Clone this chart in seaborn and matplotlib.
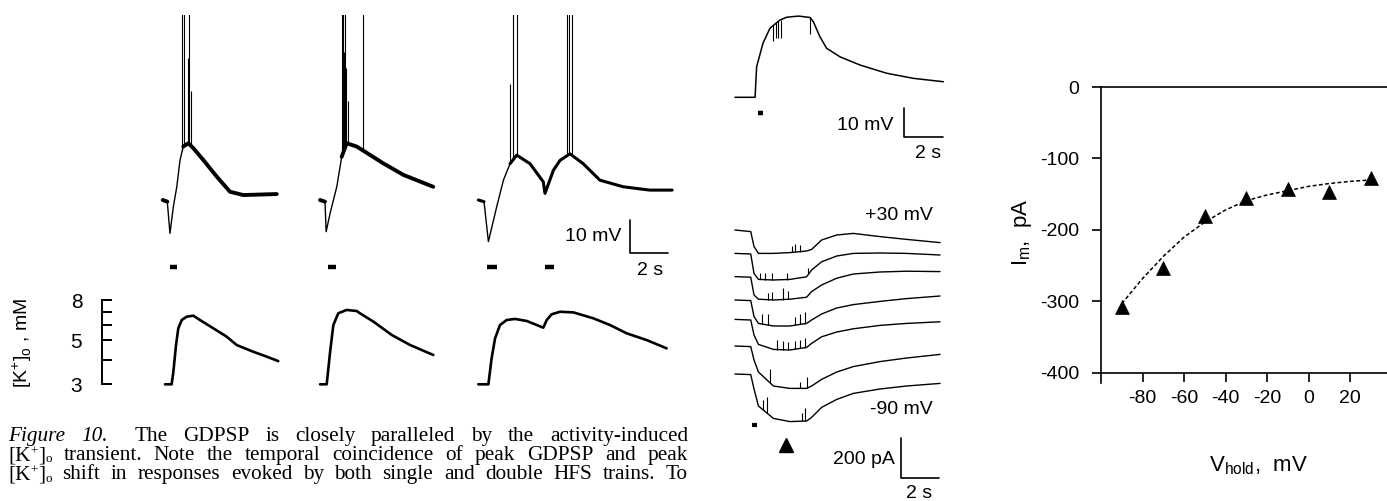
import numpy as np
import matplotlib
matplotlib.use("Agg")
import matplotlib.pyplot as plt
import seaborn as sns
from matplotlib.ticker import NullLocator, FixedLocator, FixedFormatter

# ------------------------------------------------------------------ data
# Membrane potential (GDPSP) traces, time in s from trace start, mV re baseline
VM1_T = [0, 0.24, 0.38, 0.56, 0.74, 0.91, 1.08, 1.35, 1.61, 2.14, 2.84, 3.54, 4.24, 6.0]
VM1_V = [0, -0.5, -10.1, -2.0, 4.0, 12.1, 16.2, 17.2, 15.7, 12.1, 7.1, 2.5, 1.5, 1.8]
VM1_SPIKE_T = [1.03, 1.14, 1.32, 1.40, 1.47]
VM1_SPIKE_TOP = [65, 65, 43, 65, 33]

VM2_T = [0, 0.26, 0.32, 0.53, 0.88, 1.14, 1.40, 1.93, 3.33, 4.39, 5.96]
VM2_V = [0, -0.5, -9.6, -4.0, 4.0, 13.1, 17.2, 16.2, 11.1, 7.6, 4.0]
VM2_SPIKE_T = [1.14, 1.19, 1.26, 1.32, 1.37, 1.49, 2.28]
VM2_SPIKE_TOP = [65, 65, 45, 65, 40, 30, 65]

VM3_T = [0, 0.30, 0.53, 0.97, 1.32, 1.67, 2.02, 2.72, 3.42, 3.51, 3.95, 4.30, 4.82, 5.52, 6.40, 7.63, 9.02, 10.2]
VM3_V = [0, -0.5, -12.6, -2.0, 6.0, 11.0, 13.6, 11.0, 5.5, 2.0, 9.0, 12.0, 14.0, 11.0, 6.0, 4.0, 3.0, 3.0]
VM3_SPIKE_T = [1.67, 1.84, 2.02, 4.65, 4.79, 4.91]
VM3_SPIKE_TOP = [35, 65, 65, 65, 65, 65]

# HFS train markers (start, end) in s from trace start
HFS1 = [(0.37, 0.74)]
HFS2 = [(0.40, 0.84)]
HFS3 = [(0.47, 1.00), (3.50, 4.00)]

# Extracellular K+ traces, s from trace start, mM
K1_T = [0, 0.35, 0.44, 0.58, 0.70, 0.88, 1.14, 1.49, 1.84, 2.54, 3.25, 3.77, 4.65, 5.35, 5.96]
K1_C = [3.0, 3.0, 3.47, 4.74, 5.76, 6.34, 6.59, 6.67, 6.34, 5.76, 5.22, 4.74, 4.38, 4.14, 3.93]
K2_T = [0, 0.35, 0.53, 0.70, 0.96, 1.40, 1.93, 2.10, 2.81, 3.77, 4.74, 5.96]
K2_C = [3.0, 3.0, 4.38, 5.98, 6.86, 7.13, 7.04, 6.86, 6.22, 5.33, 4.74, 4.22]
K3_T = [0, 0.53, 0.70, 0.88, 1.14, 1.49, 1.93, 2.55, 3.42, 3.60, 3.86, 4.30, 5.00, 6.05, 6.93, 7.81, 8.86, 9.91]
K3_C = [3.0, 3.0, 4.06, 5.12, 5.98, 6.34, 6.42, 6.27, 5.80, 6.34, 6.78, 6.98, 6.93, 6.47, 5.98, 5.43, 5.02, 4.56]
K_TICKS = [3, 4, 5, 6, 7, 8]
K_TICK_LABELS = ["3", "", "5", "", "", "8"]

# Current-clamp trace (middle top), s, mV re baseline
VC_T = [0, 1.04, 1.12, 1.45, 1.81, 2.33, 2.68, 3.30, 3.89, 4.06, 4.40, 4.75, 5.44, 6.48, 7.86, 9.24, 10.8]
VC_V = [0, 0, 10.8, 19.1, 24.4, 27.3, 28.3, 28.7, 28.2, 26.7, 21.4, 17.3, 14.3, 11.4, 8.5, 6.7, 5.5]
VC_DIP_T = [1.99, 2.12, 2.24, 2.38, 3.89]
VC_DIP_BOTTOM = [20, 21, 21, 21, 22.5]
VC_HFS = [(1.19, 1.45)]

# Voltage-clamp current traces (middle bottom), s, pA re holding current
IM_T = [0, 0.82, 0.99, 1.22, 2.00, 2.86, 3.73, 3.99, 4.51, 5.30, 6.16, 7.55, 8.94, 10.68]
IM_P30 = [0, -8, -83, -117, -117, -113, -105, -97, -50, -25, -17, -33, -47, -63]
IM_P10 = [0, -3, -100, -130, -133, -130, -117, -83, -42, -13, 0, 2, 0, -8]
IM_M10 = [0, -3, -92, -113, -117, -113, -103, -75, -42, -8, 13, 23, 27, 25]
IM_M30 = [0, -3, -83, -117, -130, -130, -117, -100, -70, -40, -23, -7, 7, 20]
IM_M50 = [0, -3, -78, -125, -150, -153, -140, -120, -87, -63, -47, -30, -20, -12]
IM_M70 = [0, -3, -70, -130, -200, -212, -212, -200, -167, -130, -103, -78, -60, -42]
IM_M90 = [0, -3, -75, -160, -222, -238, -235, -217, -167, -127, -97, -75, -60, -47]
IM_SPIKES = [  # (time s, height pA) of small inward-current spikelets
    [(2.95, 33), (3.13, 42), (3.39, 33)],
    [(1.30, 33), (1.56, 33), (1.91, 33), (2.69, 33), (3.82, 33)],
    [(1.74, 33), (1.91, 42), (2.52, 58), (2.78, 42)],
    [(1.39, 50), (1.74, 58), (3.13, 42), (3.39, 50), (3.65, 58)],
    [(2.17, 50), (2.52, 42), (2.78, 42), (3.13, 42), (3.39, 42), (3.65, 50)],
    [(1.82, 67), (3.39, 33), (3.73, 58)],
    [(1.48, 50), (1.68, 83), (3.47, 42), (3.65, 67)],
]
IM_HFS = [(0.87, 1.16)]
IM_ARROW_T = 2.64

# I-V relation (right panel)
V_HOLD = [-90, -70, -50, -30, -10, 10, 30]
I_M = [-308, -253, -181, -155, -143, -147, -127]
FIT_V = [-90, -80, -70, -60, -50, -40, -30, -20, -10, 0, 10, 20, 30]
FIT_I = [-303, -268, -237, -210, -189, -172, -159, -151, -145, -139, -135, -132, -130]
X_TICKS = [-80, -60, -40, -20, 0, 20]
Y_TICKS = [0, -100, -200, -300, -400]

CAP1_IT = "Figure 10."
CAP1 = "The GDPSP is closely paralleled by the activity-induced"
CAP2 = "[K+]o transient. Note the temporal coincidence of peak GDPSP and peak"
CAP3 = "[K+]o shift in responses evoked by both single and double HFS trains. To"

# ------------------------------------------------------------------ style
sns.set_theme(style="ticks", rc={"axes.edgecolor": "black", "xtick.color": "black",
                                  "ytick.color": "black", "text.color": "black",
                                  "axes.labelcolor": "black"})
plt.rcParams["font.family"] = ["Liberation Sans", "DejaVu Sans"]

W, H = 1387, 501
fig = plt.figure(figsize=(W / 100, H / 100), dpi=100)
fig.patch.set_facecolor("white")


def px_axes(x0, y0, x1, y1):
    a = fig.add_axes([x0 / W, 1 - y1 / H, (x1 - x0) / W, (y1 - y0) / H])
    a.patch.set_alpha(0)
    return a


def line(ax, t, v, t0=0.0, v0=0.0, lw=1.0, **kw):
    sns.lineplot(x=np.asarray(t, float) + t0, y=np.asarray(v, float) + v0, ax=ax,
                 color="black", linewidth=lw, estimator=None, sort=False,
                 legend=False, **kw)


def thick_parts(ax, t, v, t0, ranges, lw):
    t = np.asarray(t, float)
    v = np.asarray(v, float)
    for a, b in ranges:
        m = (t >= a - 1e-9) & (t <= b + 1e-9)
        line(ax, t[m], v[m], t0=t0, lw=lw)


# ------------------------------------------------------------ left: Vm traces
axv = px_axes(100, 15, 700, 285)
axv.set_xlim((100 - 150) / 19, (700 - 150) / 19)
axv.set_ylim((200 - 285) / 3.3, (200 - 15) / 3.3)
axv.set_axis_off()
vm_sets = [(VM1_T, VM1_V, VM1_SPIKE_T, VM1_SPIKE_TOP, HFS1, 0.67, [(0, 0.24), (1.08, 6.0)], 2.8),
           (VM2_T, VM2_V, VM2_SPIKE_T, VM2_SPIKE_TOP, HFS2, 8.95, [(0, 0.26), (1.14, 5.96)], 2.8),
           (VM3_T, VM3_V, VM3_SPIKE_T, VM3_SPIKE_TOP, HFS3, 17.28, [(0, 0.30), (1.67, 10.2)], 2.2)]
for t, v, st, stop, hfs, t0, thick, tlw in vm_sets:
    line(axv, t, v, t0=t0, lw=1.0)
    thick_parts(axv, t, v, t0, thick, tlw)
    base = np.interp(st, t, v)
    axv.vlines(np.asarray(st) + t0, base, stop, colors="black", lw=0.8)
    for a, b in hfs:
        axv.plot([a + t0, b + t0], [-20.3, -20.3], color="black", lw=3.2, solid_capstyle="butt")
# scale bar 10 mV / 2 s
sbx, sby = (630 - 150) / 19, (200 - 253) / 3.3
axv.plot([sbx, sbx, sbx + 2], [sby + 10, sby, sby], color="black", lw=1.2)
axv.text(sbx - 0.45, sby + 5, "10 mV", ha="right", va="center", fontsize=14)
axv.text(sbx + 1.05, sby - 5.2, "2 s", ha="center", va="center", fontsize=14)

# ------------------------------------------------------------ left: K+ traces
axk = px_axes(101.7, 290, 700, 395)
axk.set_yscale("log")
axk.set_xlim((101.7 - 150) / 19, (700 - 150) / 19)
axk.set_ylim(3 * np.exp((384.3 - 395) / 85.9), 3 * np.exp((384.3 - 290) / 85.9))
for sp in ["top", "right", "bottom"]:
    axk.spines[sp].set_visible(False)
axk.spines["left"].set_bounds(3, 8)
axk.spines["left"].set_linewidth(1.4)
axk.set_xticks([])
axk.yaxis.set_major_locator(FixedLocator(K_TICKS))
axk.yaxis.set_major_formatter(FixedFormatter(K_TICK_LABELS))
axk.yaxis.set_minor_locator(NullLocator())
axk.tick_params(axis="y", direction="in", length=7.5, width=1.4, pad=14, labelsize=15)
for t, c, t0 in [(K1_T, K1_C, 0.79), (K2_T, K2_C, 8.95), (K3_T, K3_C, 17.28)]:
    line(axk, t, c, t0=t0, lw=1.9)
fig.text(22 / W, 1 - 343 / H, r"[K$^{\mathregular{+}}$]$_{\mathregular{o}}$ , mM",
         rotation=90, ha="center", va="center", fontsize=14)

# ------------------------------------------------------- middle top: Vm trace
axc = px_axes(730, 0, 990, 165)
axc.set_xlim((730 - 735) / 19.3, (990 - 735) / 19.3)
axc.set_ylim((97.3 - 165) / 2.83, 97.3 / 2.83)
axc.set_axis_off()
line(axc, VC_T, VC_V, lw=1.1)
dbase = np.interp(VC_DIP_T, VC_T, VC_V)
axc.vlines(VC_DIP_T, VC_DIP_BOTTOM, dbase, colors="black", lw=0.8)
for a, b in VC_HFS:
    axc.plot([a, b], [-5.44, -5.44], color="black", lw=3.2, solid_capstyle="butt")
cbx, cby = (904 - 735) / 19.3, (97.3 - 136.7) / 2.83
axc.plot([cbx, cbx, cbx + 2], [cby + 10, cby, cby], color="black", lw=1.2)
axc.text(cbx - 0.55, cby + 4.1, "10 mV", ha="right", va="center", fontsize=14)
axc.text(cbx + 1.25, cby - 5.8, "2 s", ha="center", va="center", fontsize=14)

# ---------------------------------------------------- middle bottom: currents
axi = px_axes(730, 205, 990, 501)
axi.set_xlim((730 - 735) / 19.2, (990 - 735) / 19.2)
axi.set_ylim((230 - 501) * 5, (230 - 205) * 5)
axi.set_axis_off()
im_traces = [IM_P30, IM_P10, IM_M10, IM_M30, IM_M50, IM_M70, IM_M90]
im_offsets = [0, -117, -233, -350, -447, -580, -720]
for tr, off, spk in zip(im_traces, im_offsets, IM_SPIKES):
    line(axi, IM_T, tr, v0=off, lw=1.0)
    st = np.array([s[0] for s in spk])
    sh = np.array([s[1] for s in spk])
    b = np.interp(st, IM_T, tr) + off
    axi.vlines(st, b, b + sh, colors="black", lw=0.8)
for a, b in IM_HFS:
    axi.plot([a, b], [-975, -975], color="black", lw=3.0, solid_capstyle="butt")
axi.plot([IM_ARROW_T], [-1075], marker="^", color="black", markersize=10, ls="none")
ibx, iby = (901 - 735) / 19.2, (230 - 478.3) * 5
axi.plot([ibx, ibx, ibx + 2], [iby + 200, iby, iby], color="black", lw=1.2)
axi.text((933 - 735) / 19.2, (230 - 215) * 5, "+30 mV", ha="right", va="center", fontsize=14)
axi.text((933 - 735) / 19.2, (230 - 410) * 5, "-90 mV", ha="right", va="center", fontsize=14)
axi.text((895 - 735) / 19.2, (230 - 460) * 5, "200 pA", ha="right", va="center", fontsize=14)
axi.text((919 - 735) / 19.2, (230 - 493) * 5, "2 s", ha="center", va="center", fontsize=14)

# --------------------------------------------------------- right: I-V plot
axs = px_axes(1101, 87, 1387, 383)
axs.set_xlim(-100, -100 + (1387 - 1101) / 2.075)
axs.set_ylim(-414, 0)
axs.spines["right"].set_visible(False)
axs.spines["bottom"].set_position(("data", -400))
for sp in ["left", "top", "bottom"]:
    axs.spines[sp].set_linewidth(1.2)
sns.lineplot(x=FIT_V, y=FIT_I, ax=axs, color="black", linewidth=1.1,
             linestyle=(0, (2.5, 1.6)), estimator=None, sort=False, legend=False)
sns.scatterplot(x=V_HOLD, y=I_M, ax=axs, marker="^", s=100, color="black",
                edgecolor="black", linewidth=0.5, legend=False, zorder=3)
axs.set_xticks(X_TICKS)
axs.set_yticks(Y_TICKS)
axs.set_xticklabels([str(v) for v in X_TICKS])
axs.set_yticklabels([str(v) for v in Y_TICKS])
axs.tick_params(axis="both", direction="out", length=6.5, width=1.2, labelsize=14)
axs.tick_params(axis="y", pad=9)
axs.tick_params(axis="x", pad=6)
axs.set_xlabel("")
axs.set_ylabel("")
fig.text(1022 / W, 1 - 232 / H, r"I$_{\mathregular{m}}$,  pA", rotation=90,
         ha="center", va="center", fontsize=16)
fig.text(1258 / W, 1 - 466 / H, r"V$_{\mathregular{hold}}$,  mV",
         ha="center", va="center", fontsize=16)

# --------------------------------------------------------------- caption
renderer = fig.canvas.get_renderer()
serif = ["Liberation Serif", "DejaVu Serif"]
X_L, X_R = 8, 688
PX = 100 / 72  # pixels per point


def tokens(line_no):
    """Each word is a list of parts: (text, style, size factor, baseline shift in em)."""
    if line_no == 0:
        words = [[(w, "italic", 1.0, 0.0)] for w in CAP1_IT.split()] + \
                [[(w, "normal", 1.0, 0.0)] for w in CAP1.split()]
        gaps = [1.0] * (len(words) - 1)
        gaps[len(CAP1_IT.split()) - 1] = 1.7
        return words, gaps
    words = []
    for w in (CAP2 if line_no == 1 else CAP3).split():
        if w == "[K+]o":
            words.append([("[K", "normal", 1.0, 0.0), ("+", "normal", 0.62, 0.27),
                          ("]", "normal", 1.0, 0.0), ("o", "normal", 0.62, -0.11)])
        else:
            words.append([(w, "normal", 1.0, 0.0)])
    return words, [1.0] * (len(words) - 1)


def build(line_no, fs, y_base):
    words, gaps = tokens(line_no)
    built = []
    for parts in words:
        arts = []
        for txt, sty, k, dy in parts:
            a = fig.text(0, 1 - (y_base - dy * fs * PX) / H, txt, fontsize=fs * k,
                         family=serif, style=sty, ha="left", va="baseline")
            arts.append((a, a.get_window_extent(renderer).width))
        built.append(arts)
    widths = [sum(w for _, w in arts) for arts in built]
    return built, widths, gaps


cap_fs = 15.3
while cap_fs > 10:
    fits = True
    for ln in range(3):
        built, widths, gaps = build(ln, cap_fs, 440)
        need = sum(widths) + 0.2 * cap_fs * PX * sum(gaps)
        for arts in built:
            for a, _ in arts:
                a.remove()
        if need > (X_R - X_L):
            fits = False
    if fits:
        break
    cap_fs -= 0.1

for ln, yb in zip(range(3), [440.7, 460.0, 479.3]):
    built, widths, gaps = build(ln, cap_fs, yb)
    unit = ((X_R - X_L) - sum(widths)) / sum(gaps)
    x = X_L
    for i, arts in enumerate(built):
        xx = x
        for a, w in arts:
            a.set_x(xx / W)
            xx += w
        x += widths[i]
        if i < len(gaps):
            x += unit * gaps[i]

fig.savefig("out.png", dpi=100, facecolor="white")
